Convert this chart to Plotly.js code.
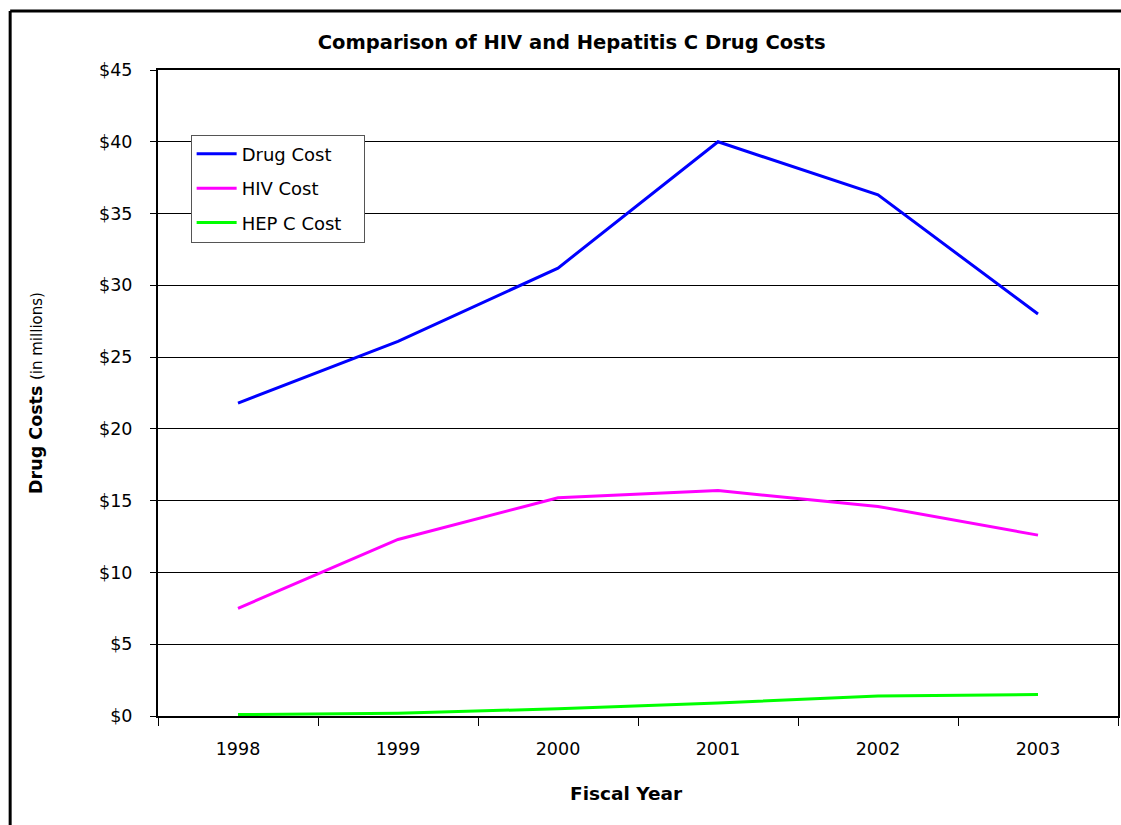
<!DOCTYPE html>
<html>
<head>
<meta charset="utf-8">
<script src="https://cdn.plot.ly/plotly-3.0.1.min.js"></script>
<style>
html,body{margin:0;padding:0;background:#fff;}
#chart{width:1121px;height:825px;}
</style>
</head>
<body>
<div id="chart"></div>
<script>
const years = ["1998", "1999", "2000", "2001", "2002", "2003"];
const drugCost = [21.8, 26.1, 31.2, 40.0, 36.3, 28.0];
const hivCost = [7.5, 12.3, 15.2, 15.7, 14.6, 12.6];
const hepCCost = [0.1, 0.2, 0.5, 0.9, 1.4, 1.5];
const seriesNames = ["Drug Cost", "HIV Cost", "HEP C Cost"];
const yTickVals = [0, 5, 10, 15, 20, 25, 30, 35, 40, 45];
const yTickText = ["$0", "$5", "$10", "$15", "$20", "$25", "$30", "$35", "$40", "$45"];

const FONT = "DejaVu Sans, Verdana, sans-serif";
const pad = "\u00a0\u00a0\u00a0";

const traces = [
  {x: years, y: drugCost, name: seriesNames[0], legendgroup: "a", type: "scatter", mode: "lines", line: {color: "#0000ff", width: 3}},
  {x: years, y: hivCost, name: seriesNames[1], legendgroup: "b", type: "scatter", mode: "lines", line: {color: "#ff00ff", width: 3}},
  {x: years, y: hepCCost, name: seriesNames[2] + pad, legendgroup: "c", type: "scatter", mode: "lines", line: {color: "#00ff00", width: 3}}
];

const layout = {
  width: 1121, height: 825,
  paper_bgcolor: "#ffffff", plot_bgcolor: "#ffffff",
  margin: {l: 158, r: 3, t: 70, b: 109, pad: 0},
  font: {family: FONT, color: "#000", size: 15},
  title: {text: "<b>Comparison of HIV and Hepatitis C Drug Costs</b>", x: 0.51, xanchor: "center", y: 0.949, yanchor: "middle", font: {size: 19.5, family: FONT}},
  showlegend: true,
  legend: {x: 0.034, y: 0.9, xanchor: "left", yanchor: "top", bgcolor: "#fff", bordercolor: "#555", borderwidth: 1, font: {size: 18, family: FONT}, tracegroupgap: 8, itemwidth: 40},
  xaxis: {
    type: "category", range: [-0.5, 5.5], tickson: "boundaries", ticks: "outside", ticklen: 8, tickcolor: "#000",
    showline: true, linecolor: "#000", linewidth: 2, mirror: true, showgrid: false, zeroline: false,
    tickfont: {size: 17.5, family: FONT}, ticklabelstandoff: 16
  },
  yaxis: {
    range: [0, 45], tickvals: yTickVals, ticktext: yTickText, ticks: "outside", ticklen: 6, tickcolor: "#000",
    showline: true, linecolor: "#000", linewidth: 2, mirror: true, showgrid: true, gridcolor: "#000", gridwidth: 1, zeroline: false,
    tickfont: {size: 17.5, family: FONT}, ticklabelstandoff: 14,
    title: {text: "<b>Drug Costs</b> <span style='font-size:15px'>(in millions)</span>", font: {size: 17.5, family: FONT}, standoff: 52}
  },
  yaxis2: {
    overlaying: "y", range: [0, 45], tickvals: yTickVals, ticks: "inside", ticklen: 5, tickcolor: "#000",
    showticklabels: false, showgrid: false, zeroline: false, showline: false
  },
  annotations: [
    {text: "<b>Fiscal Year</b>", xref: "paper", yref: "paper", x: 0.4875, y: -0.1207, xanchor: "center", yanchor: "middle", showarrow: false, font: {size: 18.5, family: FONT}}
  ],
  shapes: [
    {type: "line", xref: "paper", yref: "paper", x0: -0.154, x1: 1.05, y0: 1.0913, y1: 1.0913, line: {color: "#000", width: 3}},
    {type: "line", xref: "paper", yref: "paper", x0: -0.154, x1: -0.154, y0: 1.0913, y1: -0.2, line: {color: "#000", width: 3}}
  ]
};

traces.push({x: [years[0]], y: [null], yaxis: "y2", showlegend: false, hoverinfo: "skip", mode: "lines"});

Plotly.newPlot("chart", traces, layout, {displayModeBar: false, staticPlot: true});
</script>
</body>
</html>
